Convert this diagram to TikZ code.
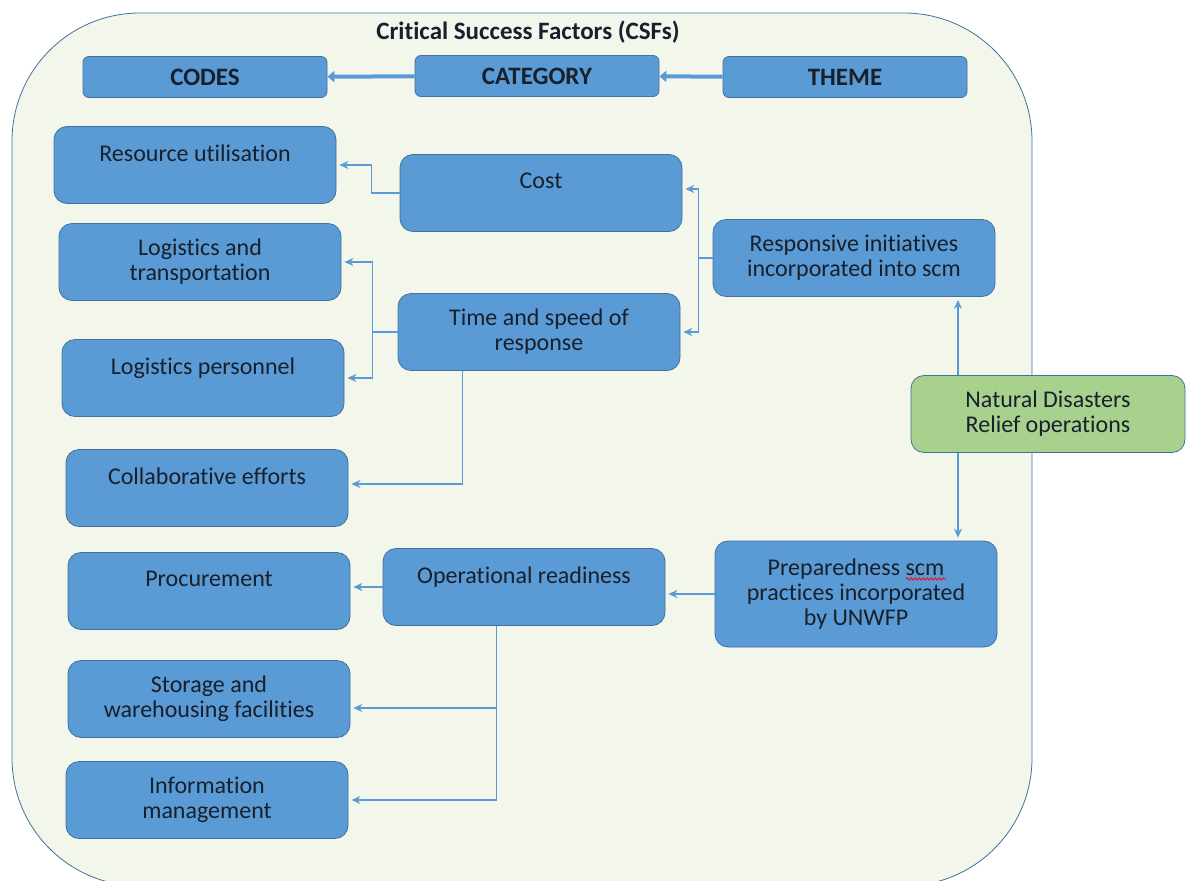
\documentclass[tikz,border=0pt]{standalone}
\usepackage{fontspec}
\setmainfont{Carlito}[Ligatures=NoCommon]
\usepackage{xcolor}
\usepackage{tikz}
\usetikzlibrary{arrows.meta,positioning,decorations.pathmorphing,calc}
\definecolor{boxblue}{HTML}{5B9BD5}
\definecolor{boxedge}{HTML}{41719C}
\definecolor{boxgreen}{HTML}{A9D18E}
\definecolor{framefill}{HTML}{F3F6EA}
\definecolor{textdark}{HTML}{17202B}
\tikzset{>=Stealth}

\begin{document}
\begin{tikzpicture}[x=1pt, y=-1pt, >=Stealth,
				box/.style={rectangle, draw=boxedge, line width=0.8pt, fill=boxblue, text=textdark, minimum width=282pt, minimum height=77pt, align=center, rounded corners=13pt, inner sep=0pt, font=\fontsize{24}{25}\selectfont},
				single/.style={text depth=24pt},
				head/.style={box, minimum width=244pt, minimum height=41pt, rounded corners=6pt, font=\fontsize{25}{26}\selectfont\bfseries},
				green/.style={box, fill=boxgreen, minimum width=274pt},
				link/.style={draw=boxblue, line width=1.2pt, -{Stealth[length=9pt,width=8pt]}, shorten >=3pt},
				headarrow/.style={draw=boxblue, line width=4pt, -{Triangle[length=7pt,width=11pt]}}]
				
				\useasboundingbox (0,0) rectangle (1192,881);
				\draw[draw=boxedge, line width=0.8pt, fill=framefill, rounded corners=128pt] (12,13) rectangle (1032,886);
				
				\node[font=\fontsize{25}{26}\selectfont\bfseries, text=textdark] (title) at (528,32) {Critical Success Factors (CSFs)};
				\node[head] (codes) at (205,77) {CODES};
				\node[head] (category) at (537,76) {CATEGORY};
				\node[head] (theme) at (845,77) {THEME};
				
				\node[box, single] (resource) at (195,165) {Resource utilisation};
				\node[box, single] (cost) at (541,193) {Cost};
				\node[box] (logtrans) at (200,262) {Logistics and\\transportation};
				\node[box] (time) at (539,332) {Time and speed of\\response};
				\node[box] (respinit) at (854,258) {Responsive initiatives\\incorporated into scm};
				\node[box, single] (logpers) at (203,378) {Logistics personnel};
				\node[box, single] (collab) at (207,488) {Collaborative efforts};
				\node[green] (natural) at (1048,414) {Natural Disasters\\Relief operations};
				\node[box, single] (procure) at (209,591) {Procurement};
				\node[box, single] (opready) at (524,587) {Operational readiness};
				\node[box, minimum height=106pt] (prep) at (856,594) {Preparedness scm\\practices incorporated\\by UNWFP};
				\node[box] (storage) at (209,699) {Storage and\\warehousing facilities};
				\node[box] (info) at (207,800) {Information\\management};
				\coordinate (ndx) at (958,414);
				
				\draw[headarrow] (category) -- (codes);
				\draw[headarrow] (theme) -- (category);
				
				\draw[link] (cost.west) -- ++(-28,0) |- (resource.east);
				\draw[link] (time.west) -- ++(-25,0) |- (logtrans.east);
				\draw[link] (time.west) -- ++(-25,0) |- (logpers.east);
				\draw[link] ($(time.south west)+(65,0)$) |- ($(collab.east)+(0,-4)$);
				\draw[link] (respinit.west) -- ++(-14,0) |- ($(cost.east)+(0,-4)$);
				\draw[link] (respinit.west) -- ++(-14,0) |- (time.east);
				\draw[link] (natural.north -| ndx) -- (respinit.south -| ndx);
				\draw[link] (natural.south -| ndx) -- (prep.north -| ndx);
				\draw[link] (prep.west) -- (prep.west -| opready.east);
				\draw[link] (opready.west) -- (opready.west -| procure.east);
				\draw[link] ($(opready.south west)+(114,0)$) |- ($(storage.east)+(0,9)$);
				\draw[link] ($(opready.south west)+(114,0)$) |- (info.east);
				
				% spell-check mark under scm
				\draw[red, line width=0.8pt, decorate, decoration={snake, amplitude=1.2pt, segment length=4pt}] (906,579) -- (946,579);
				
			\end{tikzpicture}
\end{document}
